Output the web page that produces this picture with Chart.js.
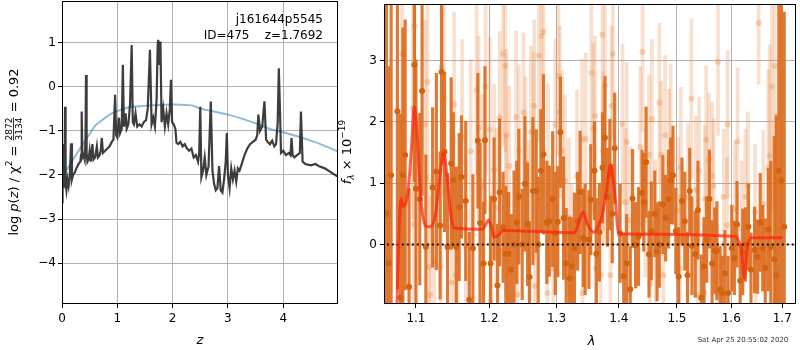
<!DOCTYPE html>
<html>
<head>
<meta charset="utf-8">
<script src="https://cdn.jsdelivr.net/npm/chart.js@4.4.1/dist/chart.umd.min.js"></script>
<style>
  html, body { margin: 0; padding: 0; background: #fff; }
  #wrap { position: relative; width: 800px; height: 350px; overflow: hidden; }
  #pzChart { position: absolute; left: 0; top: 0; }
  #specChart { position: absolute; left: 335px; top: 0; }
</style>
</head>
<body>
<div id="wrap">
  <canvas id="pzChart" width="340" height="350"></canvas>
  <canvas id="specChart" width="465" height="350"></canvas>
</div>
<script>
// ======= p(z) panel data =======
const zGrid = [
  0.00, 0.01, 0.02, 0.03, 0.045, 0.055, 0.065, 0.08, 0.10, 0.12,
  0.14, 0.163, 0.18, 0.20, 0.23, 0.26, 0.30, 0.33, 0.345, 0.356,
  0.37, 0.39, 0.41, 0.425, 0.434, 0.445, 0.46, 0.48, 0.50, 0.52,
  0.55, 0.57, 0.60, 0.63, 0.65, 0.68, 0.70, 0.72, 0.74, 0.78,
  0.82, 0.86, 0.90, 0.93, 0.96, 0.98, 1.00, 1.03, 1.05, 1.08,
  1.10, 1.12, 1.15, 1.17, 1.20, 1.23, 1.26, 1.28, 1.30, 1.33,
  1.36, 1.40, 1.44, 1.48, 1.52, 1.55, 1.59, 1.62, 1.65, 1.68,
  1.71, 1.73, 1.74, 1.76, 1.78, 1.80, 1.83, 1.86, 1.89, 1.92,
  1.95, 1.97, 1.99, 2.02, 2.05, 2.07, 2.10, 2.14, 2.18, 2.22,
  2.26, 2.30, 2.34, 2.38, 2.42, 2.46, 2.48, 2.50, 2.52, 2.55,
  2.58, 2.61, 2.65, 2.69, 2.72, 2.75, 2.78, 2.81, 2.84, 2.87,
  2.90, 2.93, 2.96, 2.98, 3.00, 3.03, 3.06, 3.09, 3.12, 3.15,
  3.18, 3.21, 3.25, 3.30, 3.35, 3.40, 3.45, 3.50, 3.53, 3.55,
  3.58, 3.62, 3.66, 3.69, 3.72, 3.76, 3.80, 3.84, 3.87, 3.90,
  3.92, 3.94, 3.96, 4.00, 4.05, 4.10, 4.13, 4.15, 4.17, 4.20,
  4.25, 4.30, 4.32, 4.35, 4.40, 4.50, 4.58, 4.65, 4.75, 4.85,
  5.00
];
const logPz = [
  -2.62, -2.3, -1.3, -2.3, -2.1, -0.45, -2.2, -2.35, -2.1, -2.25,
  -2.05, -1.28, -2.1, -2.0, -1.95, -1.85, -1.75, -1.7, -1.55, -0.56,
  -1.6, -1.55, -1.65, -1.2, 0.27, -1.5, -1.7, -1.65, -1.45, -1.7,
  -1.3, -1.65, -1.6, -1.35, -1.6, -1.55, -1.45, -1.16, -1.5, -1.45,
  -1.4, -1.35, -1.25, -1.2, -0.18, -1.1, -1.15, -0.7, -1.05, -0.95,
  0.5, -0.9, -0.6, -0.95, -0.85, -0.4, 0.95, -0.8, -0.85, -0.6,
  -0.9, -0.85, -0.9, -0.8, -0.75, -0.5, 0.84, -0.85, -0.7, -0.9,
  -0.3, 0.95, 1.07, 0.5, 1.03, -0.8, -0.5, -0.9, -0.6, -0.85,
  -0.5, 0.16, -0.8, -0.85, -0.95, -1.27, -1.3, -1.25, -1.35, -1.3,
  -1.4, -1.45, -1.4, -1.6, -1.55, -1.7, -1.5, -0.45, -2.05, -1.9,
  -1.6, -2.0, -1.8, -0.33, -1.9, -2.2, -2.35, -2.3, -1.8, -2.35,
  -2.4, -2.1, -1.7, -1.05, -2.0, -2.3, -1.85, -2.1, -1.9, -2.15,
  -1.85, -1.9, -1.75, -1.55, -1.4, -1.3, -1.25, -1.2, -1.1, -0.63,
  -1.0, -0.9, -0.33, -1.2, -1.25, -1.3, -1.22, -1.35, -1.3, -0.8,
  0.42, -0.5, -1.5, -1.45, -1.55, -1.5, -1.55, -1.16, -1.55, -1.6,
  -1.55, -1.5, -0.56, -1.7, -1.75, -1.78, -1.75, -1.8, -1.85, -1.93,
  -2.05
];
const priorZ = [0, 0.1, 0.2, 0.3, 0.4, 0.5, 0.6, 0.7, 0.8, 0.9, 1.0, 1.2, 1.4, 1.6, 1.8, 2.0,
  2.2, 2.35, 2.5, 2.75, 3.0, 3.25, 3.5, 3.75, 4.0, 4.25, 4.5, 4.75, 5.0];
const priorLogPz = [-2.05, -1.85, -1.65, -1.45, -1.25, -1.07, -0.88, -0.78, -0.68, -0.6, -0.55,
  -0.47, -0.44, -0.42, -0.41, -0.40, -0.41, -0.42, -0.49, -0.56, -0.63, -0.72, -0.83, -0.95,
  -1.03, -1.12, -1.22, -1.34, -1.47];
const pzXTicks = [0, 1, 2, 3, 4];
const pzYTicks = [-4, -3, -2, -1, 0, 1];

// ======= spectrum panel data =======
const darkWave = [
  1.062, 1.065, 1.068, 1.076, 1.080, 1.083, 1.086, 1.091, 1.098, 1.100,
  1.105, 1.108, 1.113, 1.122, 1.127, 1.132, 1.134, 1.138, 1.142, 1.147,
  1.150, 1.154, 1.158, 1.161, 1.167, 1.172, 1.177, 1.184, 1.187, 1.192,
  1.194, 1.202, 1.207, 1.212, 1.215, 1.220, 1.224, 1.228, 1.232, 1.236,
  1.240, 1.243, 1.248, 1.252, 1.256, 1.259, 1.264, 1.269, 1.272, 1.276,
  1.280, 1.285, 1.289, 1.294, 1.298, 1.302, 1.306, 1.311, 1.315, 1.320,
  1.324, 1.328, 1.333, 1.337, 1.342, 1.345, 1.351, 1.354, 1.360, 1.363,
  1.368, 1.373, 1.377, 1.381, 1.385, 1.389, 1.393, 1.402, 1.408, 1.413,
  1.419, 1.423, 1.428, 1.433, 1.439, 1.442, 1.446, 1.451, 1.455, 1.461,
  1.465, 1.469, 1.475, 1.480, 1.485, 1.489, 1.493, 1.498, 1.503, 1.509,
  1.514, 1.519, 1.523, 1.527, 1.533, 1.538, 1.544, 1.549, 1.554, 1.559,
  1.564, 1.569, 1.573, 1.579, 1.583, 1.588, 1.594, 1.601, 1.606, 1.611,
  1.617, 1.622, 1.627, 1.633, 1.638, 1.645, 1.651, 1.656, 1.661, 1.666,
  1.672, 1.677, 1.684, 1.688, 1.693, 1.698, 1.704
];
const darkFlux = [
  0.5, -0.3, 1.13, 2.17, -0.87, 1.13, 1.46, -0.69, 2.93, 0.91,
  0.74, 2.5, -0.04, 0.93, 1.19, 0.31, 2.81, 1.51, -0.04, 1.32,
  1.05, -0.04, 0.61, 1.1, 0.71, -0.9, -0.06, 1.69, 0.35, -0.31,
  1.7, -0.31, 0.74, -0.67, 0.85, 0.28, -0.15, -0.15, -0.41, 0.0,
  0.36, 0.78, 0.0, 0.99, 0.33, -0.53, 0.87, 0.87, 0.0, 1.2,
  1.47, 0.36, 0.38, 0.74, 0.18, 0.37, 1.83, 0.43, -0.31, -0.55,
  -0.36, -0.06, 0.38, 0.85, 0.11, 0.08, 0.08, 0.73, 1.2, -0.15,
  0.2, 1.25, 1.74, 0.77, 1.14, 0.5, 1.57, 0.18, -0.52, -0.31,
  -0.73, 0.75, -0.01, 0.13, 0.84, 0.69, 1.34, -0.16, 0.22, 0.5,
  -0.12, 0.0, 0.65, 0.43, 0.74, 1.04, 1.13, 0.22, -0.52, 0.71,
  0.38, -0.5, 0.87, -0.02, -0.16, 0.56, -0.87, -0.36, 0.08, 0.74,
  -0.31, -0.1, -0.1, -0.73, -0.79, -0.47, -0.79, -0.06, -0.22, 0.33,
  -0.59, -0.12, 0.0, 0.29, -0.41, -0.09, -0.2, 0.36, -0.06, -0.38,
  0.24, -0.04, -0.24, -0.5, 1.2, 1.04, 0.29
];
const darkErr = [
  3.6, 3.2, 3.4, 2.9, 3.0, 2.4, 2.2, 1.6, 1.9, 2.1,
  1.4, 1.7, 1.5, 1.3, 1.6, 1.2, 1.5, 1.3, 1.2, 1.4,
  1.1, 1.3, 1.2, 1.0, 1.3, 1.1, 1.2, 1.1, 1.3, 1.0,
  1.2, 1.1, 1.0, 1.0, 1.2, 0.9, 1.1, 1.0, 0.9, 1.2,
  1.0, 1.1, 0.9, 1.1, 1.0, 0.9, 1.2, 1.0, 1.1, 1.0,
  1.3, 1.0, 0.9, 1.1, 1.0, 0.9, 0.9, 1.0, 0.9, 1.0,
  0.8, 0.9, 0.8, 1.0, 0.8, 0.9, 0.8, 0.9, 0.8, 0.9,
  0.8, 0.9, 1.0, 0.8, 0.9, 0.8, 0.9, 0.8, 0.7, 0.8,
  0.7, 0.8, 0.7, 0.8, 0.7, 0.8, 0.9, 0.7, 0.8, 0.7,
  0.8, 0.7, 0.8, 0.7, 0.8, 0.7, 0.8, 0.7, 0.8, 0.7,
  0.8, 0.7, 0.7, 0.8, 0.7, 0.8, 0.7, 0.8, 0.7, 0.8,
  0.7, 0.7, 0.8, 0.7, 0.6, 0.7, 0.6, 0.7, 0.6, 0.7,
  0.6, 0.7, 0.6, 0.7, 0.6, 0.7, 0.6, 0.8, 0.7, 0.8,
  1.0, 1.4, 2.0, 2.6, 3.2, 3.4, 3.5
];

const lightWave = [
  1.082, 1.096, 1.097, 1.098, 1.112, 1.115, 1.117, 1.119, 1.124, 1.133,
  1.134, 1.137, 1.148, 1.151, 1.153, 1.156, 1.162, 1.167, 1.174, 1.182,
  1.185, 1.189, 1.190, 1.195, 1.201, 1.202, 1.207, 1.210, 1.215, 1.220,
  1.223, 1.224, 1.225, 1.229, 1.239, 1.241, 1.243, 1.250, 1.253, 1.258,
  1.261, 1.265, 1.266, 1.267, 1.273, 1.277, 1.280, 1.286, 1.287, 1.295,
  1.298, 1.303, 1.305, 1.309, 1.313, 1.319, 1.324, 1.332, 1.340, 1.341,
  1.346, 1.355, 1.358, 1.361, 1.362, 1.370, 1.373, 1.374, 1.375, 1.377,
  1.386, 1.388, 1.390, 1.406, 1.411, 1.413, 1.419, 1.436, 1.440, 1.445,
  1.451, 1.453, 1.456, 1.462, 1.469, 1.472, 1.476, 1.479, 1.486, 1.489,
  1.502, 1.505, 1.507, 1.520, 1.526, 1.534, 1.537, 1.540, 1.549, 1.551,
  1.553, 1.558, 1.564, 1.567, 1.573, 1.575, 1.586, 1.592, 1.593, 1.607,
  1.612, 1.620, 1.627, 1.632, 1.646, 1.647, 1.653, 1.662, 1.672, 1.675,
  1.679, 1.685, 1.688, 1.697
];
const lightFlux = [
  3.11, 2.22, 0.33, 3.56, 1.96, 2.65, -0.36, -0.82, -0.28, -0.36,
  2.89, 2.39, -0.62, 2.28, -0.5, -0.22, 1.74, -0.04, 1.52, 2.52,
  1.9, -0.33, 0.94, 2.57, 1.87, -0.92, 1.21, 0.6, 2.07, 3.11,
  2.91, 0.5, 1.78, 1.28, 2.08, -0.82, 1.53, 2.15, 1.33, 0.39,
  1.83, 1.84, 2.26, -0.68, 3.08, 3.4, 3.47, -0.79, 1.22, -0.39,
  1.95, 2.75, 2.16, 1.53, 1.04, 0.44, -0.31, 1.12, 1.72, -0.79,
  1.72, 2.8, 1.89, 2.1, -0.39, -0.5, 3.42, 1.52, 1.29, 2.59,
  -0.5, 2.26, 3.11, 1.96, 0.69, 1.67, 0.39, 1.59, 3.14, 0.67,
  1.46, -0.64, 2.04, 0.18, 2.31, 1.46, -0.5, 1.78, 1.33, 1.64,
  0.55, -0.39, 1.26, 0.77, 2.38, 0.89, -0.82, 1.2, -0.79, 0.74,
  1.71, 1.37, 1.12, 0.95, -0.79, 2.98, 0.78, 0.31, 1.96, 0.58,
  1.68, 0.26, 0.78, 0.96, 0.53, -0.68, 3.61, 0.66, 1.25, 1.45,
  2.57, 2.91, -0.36, 2.69
];
const lightErr = [
  2.0, 1.8, 1.9, 2.0, 1.7, 1.6, 1.5, 1.6, 1.5, 1.6,
  1.5, 1.6, 1.4, 1.5, 1.4, 1.5, 1.6, 1.4, 1.5, 1.4,
  1.5, 1.4, 1.5, 1.4, 1.5, 1.3, 1.4, 1.3, 1.4, 1.5,
  1.4, 1.3, 1.4, 1.3, 1.4, 1.3, 1.4, 1.3, 1.4, 1.3,
  1.4, 1.3, 1.4, 1.3, 1.4, 1.5, 1.4, 1.3, 1.4, 1.3,
  1.4, 1.3, 1.4, 1.3, 1.4, 1.3, 1.3, 1.4, 1.3, 1.3,
  1.4, 1.3, 1.4, 1.3, 1.3, 1.2, 1.4, 1.3, 1.3, 1.3,
  1.2, 1.3, 1.4, 1.3, 1.2, 1.3, 1.2, 1.3, 1.3, 1.2,
  1.3, 1.2, 1.3, 1.2, 1.3, 1.2, 1.2, 1.3, 1.2, 1.3,
  1.2, 1.2, 1.3, 1.2, 1.3, 1.2, 1.2, 1.2, 1.1, 1.2,
  1.2, 1.1, 1.2, 1.1, 1.1, 1.2, 1.1, 1.1, 1.2, 1.1,
  1.2, 1.1, 1.1, 1.2, 1.1, 1.1, 1.0, 1.2, 1.6, 1.8,
  2.0, 2.4, 2.5, 2.8
];

const modelWave = [1.075, 1.079, 1.081, 1.083, 1.086, 1.090, 1.094, 1.098, 1.102, 1.105,
  1.108, 1.113, 1.119, 1.126, 1.132, 1.137, 1.141, 1.147, 1.151, 1.190,
  1.195, 1.199, 1.203, 1.207, 1.213, 1.220, 1.328, 1.333, 1.342, 1.348,
  1.359, 1.366, 1.373, 1.380, 1.386, 1.390, 1.394, 1.399, 1.411, 1.609,
  1.614, 1.619, 1.625, 1.630, 1.638, 1.700];
const modelFlux = [-1.2, 0.5, 0.75, 0.62, 0.65, 0.9, 1.54, 2.25, 1.7, 1.0,
  0.55, 0.3, 0.29, 0.5, 1.15, 1.5, 1.15, 0.45, 0.27, 0.25,
  0.32, 0.4, 0.3, 0.12, 0.15, 0.23, 0.19, 0.3, 0.53, 0.35,
  0.2, 0.3, 0.5, 0.9, 1.3, 1.1, 0.76, 0.2, 0.17, 0.13,
  0.05, -0.05, -0.55, -0.1, 0.11, 0.11];

const specXTicks = [1.1, 1.2, 1.3, 1.4, 1.5, 1.6, 1.7];
const specYTicks = [0, 1, 2, 3];

// ======= helpers =======
const FONT = "'DejaVu Sans', sans-serif";
const GRID = '#b0b0b0';

function setTicks(values) {
  return scale => { scale.ticks = values.map(v => ({ value: v })); };
}

// fixed box sizes, no extra label padding at the ends
function fixHeight(h) {
  return s => { s.height = h; s.paddingLeft = 0; s.paddingRight = 0; };
}
function fixWidth(w) {
  return s => { s.width = w; s.paddingTop = 0; s.paddingBottom = 0; };
}

function minusLabel(v) {
  return v < 0 ? '\u2212' + Math.abs(v) : String(v);
}

function drawFrame(chart) {
  const a = chart.chartArea;
  const c = chart.ctx;
  c.save();
  c.strokeStyle = '#000';
  c.lineWidth = 1;
  c.strokeRect(Math.round(a.left) + 0.5, Math.round(a.top) + 0.5,
    Math.round(a.right - a.left) - 1, Math.round(a.bottom - a.top) - 1);
  c.restore();
}

// draws a row of text pieces (size, italic, vertical shift) centred on cx
function drawRuns(c, runs, cx, baseY) {
  let total = 0;
  runs.forEach(r => {
    if (r.frac) {
      c.font = `${r.size}px ${FONT}`;
      r.w = Math.max(c.measureText(r.frac[0]).width, c.measureText(r.frac[1]).width) + 2;
    } else {
      c.font = `${r.italic ? 'italic ' : ''}${r.size}px ${FONT}`;
      r.w = c.measureText(r.t).width;
    }
    total += r.w;
  });
  let x = cx - total / 2;
  runs.forEach(r => {
    if (r.frac) {
      c.font = `${r.size}px ${FONT}`;
      c.textAlign = 'center';
      c.fillText(r.frac[0], x + r.w / 2, baseY - 6);
      c.fillText(r.frac[1], x + r.w / 2, baseY + 4);
      c.fillRect(x + 1, baseY - 5, r.w - 2, 0.8);
      c.textAlign = 'left';
    } else {
      c.font = `${r.italic ? 'italic ' : ''}${r.size}px ${FONT}`;
      c.fillText(r.t, x, baseY + (r.dy || 0));
    }
    x += r.w;
  });
}

// ======= p(z) chart =======
const pzText = {
  id: 'pzText',
  afterDraw(chart) {
    drawFrame(chart);
    const c = chart.ctx;
    c.save();
    c.fillStyle = '#000';
    c.textBaseline = 'alphabetic';
    // annotation
    c.font = `12px ${FONT}`;
    c.textAlign = 'right';
    c.fillText('j161644p5545', 323, 23);
    c.fillText('ID=475    z=1.7692', 323, 39);
    // x title
    c.textAlign = 'center';
    c.font = `italic 13px ${FONT}`;
    c.fillText('z', 200, 344);
    // y title
    c.textAlign = 'left';
    c.translate(18, 152);
    c.rotate(-Math.PI / 2);
    drawRuns(c, [
      { t: 'log ', size: 13 },
      { t: 'p', size: 13, italic: true },
      { t: '(', size: 13 },
      { t: 'z', size: 13, italic: true },
      { t: ') / \u03c7', size: 13 },
      { t: '2', size: 9, dy: -6 },
      { t: ' = ', size: 13 },
      { frac: ['2872', '3134'], size: 9 },
      { t: ' = 0.92', size: 13 }
    ], 0, 0);
    c.restore();
  }
};

new Chart(document.getElementById('pzChart'), {
  type: 'scatter',
  data: {
    datasets: [
      {
        type: 'line',
        data: zGrid.map((z, i) => ({ x: z, y: logPz[i] })),
        borderColor: 'rgba(40,40,40,0.9)',
        borderWidth: 2.2,
        pointRadius: 0,
        tension: 0,
        order: 1
      },
      {
        type: 'line',
        data: priorZ.map((z, i) => ({ x: z, y: priorLogPz[i] })),
        borderColor: 'rgba(31,119,180,0.5)',
        borderWidth: 2,
        pointRadius: 0,
        tension: 0.3,
        order: 2
      }
    ]
  },
  options: {
    responsive: false,
    animation: false,
    events: [],
    layout: { padding: { top: 1, right: 2, left: 0, bottom: 0 } },
    plugins: { legend: { display: false }, tooltip: { enabled: false } },
    scales: {
      x: {
        type: 'linear',
        min: 0, max: 4.99,
        bounds: 'data',
        afterBuildTicks: setTicks(pzXTicks),
        afterFit: fixHeight(46),
        grid: { color: GRID, tickColor: '#000', tickLength: 4 },
        border: { display: false },
        ticks: { color: '#000', font: { family: FONT, size: 12 }, padding: 4, maxRotation: 0, autoSkip: false, callback: minusLabel }
      },
      y: {
        type: 'linear',
        min: -4.93, max: 1.95,
        bounds: 'data',
        afterBuildTicks: setTicks(pzYTicks),
        afterFit: fixWidth(62),
        grid: { color: GRID, tickColor: '#000', tickLength: 4 },
        border: { display: false },
        ticks: { color: '#000', font: { family: FONT, size: 12 }, padding: 2, autoSkip: false, callback: minusLabel }
      }
    }
  },
  plugins: [pzText]
});

// ======= spectrum chart =======
const specText = {
  id: 'specText',
  afterDraw(chart) {
    drawFrame(chart);
    const c = chart.ctx;
    c.save();
    c.fillStyle = '#000';
    c.textBaseline = 'alphabetic';
    c.textAlign = 'center';
    c.font = `italic 13px ${FONT}`;
    c.fillText('\u03bb', 256.5, 345);
    c.font = `7px ${FONT}`;
    c.fillStyle = '#333';
    c.fillText('Sat Apr 25 20:55:02 2020', 408, 342);
    c.fillStyle = '#000';
    c.textAlign = 'left';
    c.translate(16, 152);
    c.rotate(-Math.PI / 2);
    drawRuns(c, [
      { t: 'f', size: 13, italic: true },
      { t: '\u03bb', size: 9, italic: true, dy: 3 },
      { t: ' \u00d7 10', size: 13 },
      { t: '\u221219', size: 9, dy: -6 }
    ], 0, 0);
    c.restore();
  }
};

const errBars = (w, f, e) => w.map((x, i) => ({ x: x, y: [f[i] - e[i], f[i] + e[i]] }));
const pts = (w, f) => w.map((x, i) => ({ x: x, y: f[i] }));

new Chart(document.getElementById('specChart'), {
  type: 'scatter',
  data: {
    datasets: [
      {
        type: 'bar',
        data: errBars(lightWave, lightFlux, lightErr),
        backgroundColor: 'rgba(232,140,75,0.28)',
        borderWidth: 0,
        barThickness: 3,
        grouped: false,
        order: 6
      },
      {
        type: 'scatter',
        data: pts(lightWave, lightFlux),
        backgroundColor: 'rgba(232,140,75,0.35)',
        borderWidth: 0,
        pointRadius: 3,
        order: 5
      },
      {
        type: 'bar',
        data: errBars(darkWave, darkFlux, darkErr),
        backgroundColor: 'rgba(220,108,30,0.9)',
        borderWidth: 0,
        barThickness: 2.5,
        grouped: false,
        order: 4
      },
      {
        type: 'scatter',
        data: pts(darkWave, darkFlux),
        backgroundColor: '#d2640f',
        borderWidth: 0,
        pointRadius: 3,
        order: 3
      },
      {
        type: 'line',
        data: [{ x: 1.05, y: 0 }, { x: 1.75, y: 0 }],
        borderColor: '#111',
        borderWidth: 2,
        borderDash: [2, 3],
        pointRadius: 0,
        order: 2
      },
      {
        type: 'line',
        data: pts(modelWave, modelFlux),
        borderColor: 'rgba(255,35,15,0.72)',
        borderWidth: 3,
        pointRadius: 0,
        cubicInterpolationMode: 'monotone',
        order: 1
      }
    ]
  },
  options: {
    responsive: false,
    animation: false,
    events: [],
    layout: { padding: { top: 1, right: 1, left: 0, bottom: 0 } },
    plugins: { legend: { display: false }, tooltip: { enabled: false } },
    scales: {
      x: {
        type: 'logarithmic',
        min: 1.059, max: 1.728,
        bounds: 'data',
        offset: false,
        afterBuildTicks: setTicks(specXTicks),
        afterFit: fixHeight(46),
        grid: { color: GRID, tickColor: '#000', tickLength: 4, offset: false },
        border: { display: false },
        ticks: { color: '#000', font: { family: FONT, size: 12 }, padding: 4, maxRotation: 0, autoSkip: false, callback: v => v.toFixed(1) }
      },
      y: {
        type: 'linear',
        min: -0.97, max: 3.92,
        bounds: 'data',
        afterBuildTicks: setTicks(specYTicks),
        afterFit: fixWidth(49),
        grid: { color: GRID, tickColor: '#000', tickLength: 4 },
        border: { display: false },
        ticks: { color: '#000', font: { family: FONT, size: 12 }, padding: 3, autoSkip: false, callback: minusLabel }
      }
    }
  },
  plugins: [specText]
});
</script>
</body>
</html>
